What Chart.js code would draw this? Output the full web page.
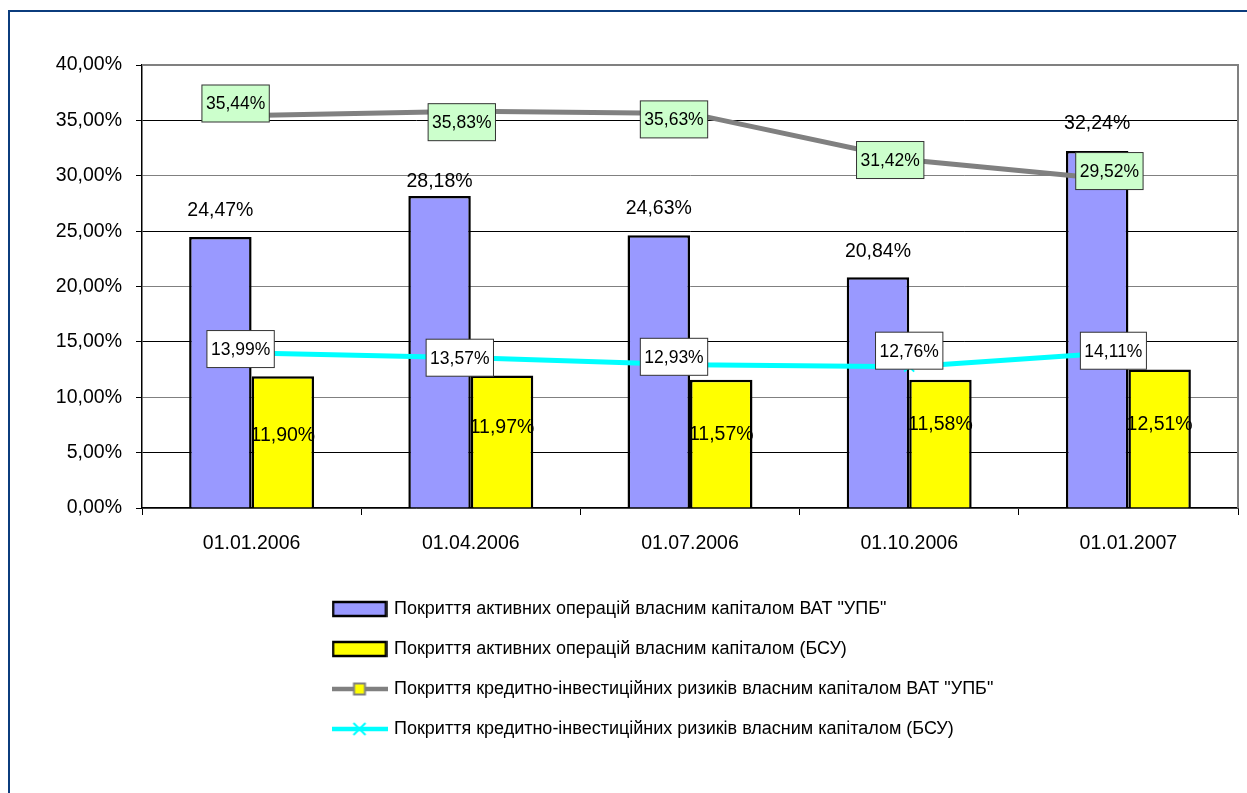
<!DOCTYPE html>
<html>
<head>
<meta charset="utf-8">
<script src="https://cdn.jsdelivr.net/npm/chart.js@4.4.1/dist/chart.umd.min.js"></script>
<style>
    body { margin: 0; background: #fff; overflow: hidden; }
    #frame { position: absolute; left: 8px; top: 10px; width: 1400px; height: 1000px; border: 2px solid #0b3c7d; box-sizing: border-box; }
    #wrap { position: absolute; left: 0; top: 0; width: 1247px; height: 793px; }
</style>
</head>
<body>
<div id="frame"></div>
<div id="wrap"><canvas id="myChart" width="1247" height="793"></canvas></div>
<script>
const dates = ['01.01.2006', '01.04.2006', '01.07.2006', '01.10.2006', '01.01.2007'];
const bankActive = [24.47, 28.18, 24.63, 20.84, 32.24];
const systemActive = [11.90, 11.97, 11.57, 11.58, 12.51];
const bankRisk = [35.44, 35.83, 35.63, 31.42, 29.52];
const systemRisk = [13.99, 13.57, 12.93, 12.76, 14.11];
const yTickLabels = ['0,00%', '5,00%', '10,00%', '15,00%', '20,00%', '25,00%', '30,00%', '35,00%', '40,00%'];
const seriesNames = [
    'Покриття активних операцій власним капіталом ВАТ "УПБ"',
    'Покриття активних операцій власним капіталом (БСУ)',
    'Покриття кредитно-інвестиційних ризиків власним капіталом ВАТ "УПБ"',
    'Покриття кредитно-інвестиційних ризиків власним капіталом (БСУ)'
];

// where the value labels sit relative to their point (px)
const bankActiveRise = [26, 14, 27, 26, 27];
const systemActiveDrop = [59, 52, 55, 45, 55];
const bankRiskShift = [[-16, -12], [-9, 11], [-16, 6], [-19, 0], [-19, -10]];
const systemRiskShift = [[-11, -4], [-11, 0], [-16, -8], [0, -16], [-15, -1]];

const fam = '"Liberation Sans", Arial, sans-serif';
Chart.defaults.font.family = fam;
Chart.defaults.color = '#000';

function fmt(v) {
    return v.toFixed(2).replace('.', ',') + '%';
}

function makeIcon(kind) {
    const c = document.createElement('canvas');
    c.width = 56;
    c.height = 18;
    const g = c.getContext('2d');
    if (kind === 'bar1' || kind === 'bar2') {
        g.fillStyle = kind === 'bar1' ? '#9999ff' : '#ffff00';
        g.fillRect(1.5, 2, 53, 14);
        g.lineWidth = 2.5;
        g.strokeStyle = '#000';
        g.strokeRect(1.5, 2, 53, 14);
    } else if (kind === 'grey') {
        g.strokeStyle = '#808080';
        g.lineWidth = 4.5;
        g.beginPath(); g.moveTo(0, 9); g.lineTo(56, 9); g.stroke();
        g.fillStyle = '#ffff00';
        g.fillRect(22.5, 3.5, 11, 11);
        g.lineWidth = 2;
        g.strokeRect(22.5, 3.5, 11, 11);
    } else {
        g.strokeStyle = '#00ffff';
        g.lineWidth = 4.5;
        g.beginPath(); g.moveTo(0, 9); g.lineTo(56, 9); g.stroke();
        g.lineWidth = 2;
        g.beginPath();
        g.moveTo(22, 3); g.lineTo(34, 15);
        g.moveTo(34, 3); g.lineTo(22, 15);
        g.stroke();
    }
    return c;
}
const legendIcons = [makeIcon('bar1'), makeIcon('bar2'), makeIcon('grey'), makeIcon('cyan')];

const legendPlace = {
    id: 'legendPlace',
    beforeInit(chart) {
        const origFit = chart.legend.fit;
        chart.legend.fit = function () {
            origFit.call(this);
            this.height = 217;
        };
    },
    afterLayout(chart) {
        const lg = chart.legend;
        lg.left = 334 - 22;
        lg.right = lg.left + 720;
        lg.top = 578;
    }
};

const plotFrame = {
    id: 'plotFrame',
    beforeDatasetsDraw(chart) {
        const {ctx, chartArea: a} = chart;
        ctx.save();
        ctx.strokeStyle = '#808080';
        ctx.lineWidth = 2;
        ctx.beginPath();
        ctx.moveTo(a.left, a.top);
        ctx.lineTo(a.right, a.top);
        ctx.lineTo(a.right, a.bottom);
        ctx.stroke();
        ctx.restore();
    }
};

const valueLabels = {
    id: 'valueLabels',
    afterDatasetsDraw(chart) {
        const ctx = chart.ctx;
        ctx.save();
        ctx.textAlign = 'center';
        ctx.textBaseline = 'middle';
        ctx.fillStyle = '#000';
        ctx.font = '19.5px ' + fam;
        chart.getDatasetMeta(0).data.forEach((bar, i) => {
            ctx.fillText(fmt(bankActive[i]), bar.x, bar.y - bankActiveRise[i]);
        });
        chart.getDatasetMeta(1).data.forEach((bar, i) => {
            ctx.fillText(fmt(systemActive[i]), bar.x, bar.y + systemActiveDrop[i]);
        });
        ctx.font = '17.5px ' + fam;
        const boxed = (meta, values, shifts, fill) => {
            meta.data.forEach((pt, i) => {
                const txt = fmt(values[i]);
                const w = ctx.measureText(txt).width + 8;
                const h = 37;
                const cx = pt.x + shifts[i][0];
                const cy = pt.y + shifts[i][1];
                ctx.fillStyle = fill;
                ctx.fillRect(cx - w / 2, cy - h / 2, w, h);
                ctx.strokeStyle = '#333';
                ctx.lineWidth = 1;
                ctx.strokeRect(cx - w / 2, cy - h / 2, w, h);
                ctx.fillStyle = '#000';
                ctx.fillText(txt, cx, cy + 1);
            });
        };
        boxed(chart.getDatasetMeta(2), bankRisk, bankRiskShift, '#ccffcc');
        boxed(chart.getDatasetMeta(3), systemRisk, systemRiskShift, '#ffffff');
        ctx.restore();
    }
};

const ctx = document.getElementById('myChart').getContext('2d');
const myChart = new Chart(ctx, {
    type: 'bar',
    data: {
        labels: dates,
        datasets: [{
            label: seriesNames[0],
            data: bankActive,
            backgroundColor: '#9999ff',
            borderColor: '#000',
            borderWidth: 2.5,
            categoryPercentage: 0.57,
            barPercentage: 1.0,
            order: 2
        }, {
            label: seriesNames[1],
            data: systemActive,
            backgroundColor: '#ffff00',
            borderColor: '#000',
            borderWidth: 2.5,
            categoryPercentage: 0.57,
            barPercentage: 1.0,
            order: 2
        }, {
            type: 'line',
            label: seriesNames[2],
            data: bankRisk,
            borderColor: '#808080',
            borderWidth: 5,
            pointStyle: 'rect',
            pointRadius: 5,
            pointBackgroundColor: '#ffff00',
            pointBorderColor: '#808080',
            pointBorderWidth: 1.5,
            tension: 0,
            order: 1
        }, {
            type: 'line',
            label: seriesNames[3],
            data: systemRisk,
            borderColor: '#00ffff',
            borderWidth: 5,
            pointStyle: 'crossRot',
            pointRadius: 7,
            pointBorderColor: '#00ffff',
            pointBorderWidth: 2,
            tension: 0,
            order: 1
        }]
    },
    options: {
        responsive: false,
        animation: false,
        devicePixelRatio: 1,
        layout: { padding: { left: 0, right: 9, top: 65, bottom: 0 } },
        scales: {
            x: {
                grid: { display: true, drawOnChartArea: false, drawTicks: true, tickLength: 7, tickColor: '#000', offset: true },
                border: { color: '#000', width: 1.5 },
                ticks: { color: '#000', font: { size: 19.5 }, padding: 17, maxRotation: 0, autoSkip: false },
                afterFit: s => { s.height = 68; }
            },
            y: {
                min: 0,
                max: 40,
                ticks: {
                    stepSize: 5,
                    padding: 14,
                    color: '#000',
                    font: { size: 19.5 },
                    callback: (v, i) => yTickLabels[i]
                },
                grid: {
                    color: c => (c.tick && c.tick.value % 10 === 0 ? '#808080' : '#000'),
                    tickColor: '#000',
                    tickLength: 6,
                    lineWidth: 1
                },
                border: { color: '#000', width: 1.5 },
                afterFit: s => { s.width = 142; }
            }
        },
        plugins: {
            tooltip: { enabled: false },
            legend: {
                position: 'bottom',
                align: 'start',
                labels: {
                    usePointStyle: true,
                    pointStyleWidth: 51,
                    padding: 22,
                    color: '#000',
                    font: { size: 18 },
                    generateLabels: chart => chart.data.datasets.map((ds, i) => ({
                        text: ds.label,
                        pointStyle: legendIcons[i],
                        datasetIndex: i,
                        hidden: false,
                        lineWidth: 0,
                        strokeStyle: 'rgba(0,0,0,0)',
                        fillStyle: 'rgba(0,0,0,0)',
                        fontColor: '#000'
                    }))
                }
            }
        }
    },
    plugins: [legendPlace, plotFrame, valueLabels]
});
</script>
</body>
</html>
